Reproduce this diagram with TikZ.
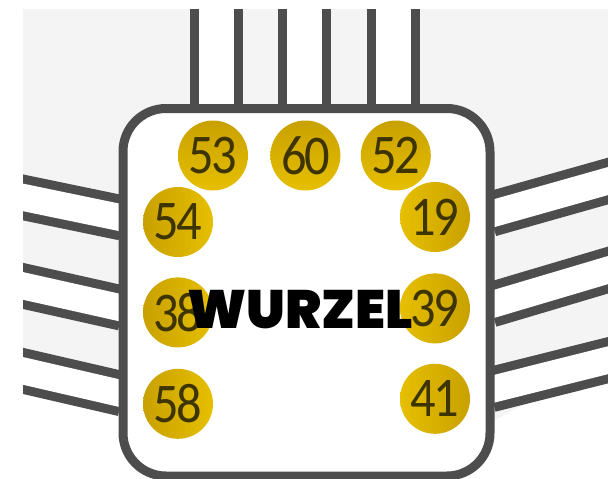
\documentclass[tikz,border=0pt]{standalone}
\usepackage{fontspec}
\setmainfont{Carlito}
\newfontfamily\digitfont{Carlito}[FakeStretch=0.9, LetterSpace=-5]
\newfontfamily\blackfont{Poppins Black}
\usetikzlibrary{positioning,backgrounds}
\definecolor{edgegray}{HTML}{4D4D4D}
\definecolor{bggray}{HTML}{F4F4F4}
\definecolor{golddark}{HTML}{C9A100}
\definecolor{goldlight}{HTML}{E6BF00}
\definecolor{digit}{HTML}{3D3400}
\begin{document}
\begin{tikzpicture}[x=1pt, y=-1pt,
  band/.style={draw=edgegray, line width=9pt, double=white, double distance=27pt},
  wideband/.style={band, double distance=35pt},
  root/.style={draw=edgegray, fill=white, line width=9pt, rounded corners=43pt,
               minimum width=367pt, minimum height=367.5pt, outer sep=0pt},
  ball/.style={circle, minimum size=70pt, inner sep=0pt, text=digit,
               font=\digitfont\fontsize{56pt}{56pt}\selectfont},
  lball/.style={ball, left color=golddark, right color=goldlight},
  rball/.style={ball, left color=goldlight, right color=golddark},
  tball/.style={ball, top color=golddark, bottom color=goldlight}]
\useasboundingbox (0,0) rectangle (608,479);
\node[root] (wurzel) at (306.5,292.25) {};
\node[tball] (b53) at (213,155.5) {53};
\node[tball, right=22pt of b53] (b60) {60};
\node[tball, right=20pt of b60] (b52) {52};
\node[lball] (b54) at (178,222) {54};
\node[lball, below=20pt of b54] (b38) {38};
\node[lball, below=21pt of b38] (b58) {58};
\node[rball] (b19) at (435,217) {19};
\node[rball, below=21pt of b19] (b39) {39};
\node[rball, below=20pt of b39] (b41) {41};
\node[anchor=base, font=\blackfont\fontsize{54pt}{54pt}\selectfont] (titel) at (300,328) {WURZEL};
\coordinate (tl) at (216,0);
\coordinate (tm) at (304.5,0);
\coordinate (tr) at (393,0);
\coordinate (l1) at (10,194.7);
\coordinate (l2) at (10,283);
\coordinate (l3) at (10,367.9);
\coordinate (r1) at (620,177.65);
\coordinate (r2) at (620,266.5);
\coordinate (r3) at (620,357.2);
\begin{scope}[on background layer]
  \clip (23,9) rectangle (608,479);
  \fill[bggray] (23,9) -- (608,9) -- (608,360) -- (540,396) -- (495,420)
    -- (123,400) -- (23,375) -- cycle;
  \draw[wideband] (tl) -- (tl |- wurzel.north);
  \draw[wideband] (tm) -- (tm |- wurzel.north);
  \draw[wideband] (tr) -- (tr |- wurzel.north);
  \draw[band] (l1) -- (wurzel.158.2);
  \draw[band] (l2) -- (wurzel.185.9);
  \draw[band] (l3) -- (wurzel.209.2);
  \draw[band] (r1) -- (wurzel.23.1);
  \draw[band] (r2) -- (wurzel.356.4);
  \draw[band] (r3) -- (wurzel.332.65);
\end{scope}
\end{tikzpicture}
\end{document}
